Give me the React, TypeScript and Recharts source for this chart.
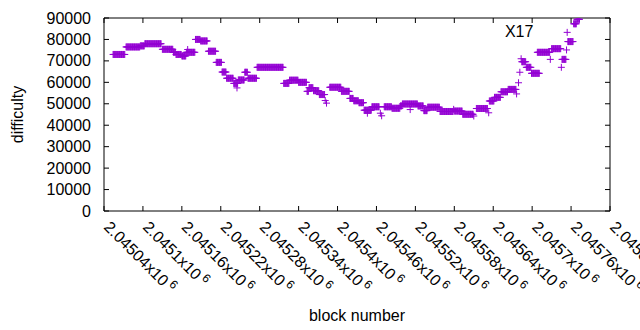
import React from 'react';
import { ScatterChart, Scatter, XAxis, YAxis, ReferenceArea, ReferenceDot } from 'recharts';

// runs of blocks that share a difficulty (a single block has from === to)
const blockFrom = [
  2045054, 2045074, 2045096, 2045103, 2045130, 2045147, 2045151, 2045160, 2045167, 2045169,
  2045181, 2045189, 2045201, 2045213, 2045222, 2045229, 2045240, 2045245, 2045247, 2045257,
  2045262, 2045276, 2045317, 2045326, 2045340, 2045353, 2045356, 2045363, 2045372, 2045381,
  2045383, 2045388, 2045406, 2045419, 2045425, 2045433, 2045441, 2045446, 2045453, 2045466,
  2045468, 2045472, 2045484, 2045497, 2045500, 2045512, 2045524, 2045533, 2045539, 2045558,
  2045579, 2045580, 2045593, 2045610, 2045614, 2045633, 2045634, 2045642, 2045652, 2045663,
  2045676, 2045679, 2045681, 2045683, 2045684, 2045691, 2045699, 2045708, 2045728, 2045730,
  2045745, 2045746, 2045753, 2045754, 2045755, 2045764, 2045769,
];
const blockTo = [
  2045072, 2045095, 2045102, 2045128, 2045146, 2045150, 2045159, 2045166, 2045180, 2045169,
  2045188, 2045199, 2045212, 2045221, 2045228, 2045239, 2045246, 2045245, 2045256, 2045261,
  2045275, 2045316, 2045325, 2045339, 2045352, 2045355, 2045362, 2045371, 2045380, 2045381,
  2045383, 2045405, 2045418, 2045424, 2045432, 2045440, 2045452, 2045446, 2045464, 2045466,
  2045468, 2045483, 2045496, 2045499, 2045523, 2045512, 2045532, 2045538, 2045557, 2045578,
  2045579, 2045592, 2045609, 2045610, 2045631, 2045633, 2045641, 2045651, 2045662, 2045675,
  2045676, 2045679, 2045681, 2045683, 2045690, 2045698, 2045711, 2045727, 2045728, 2045744,
  2045745, 2045752, 2045753, 2045754, 2045763, 2045768, 2045773,
];
const difficulty = [
  73000, 76500, 77000, 78000, 75400, 74000, 73000, 72300, 74000, 75300,
  80000, 79300, 74500, 69300, 64800, 61900, 59500, 57400, 61100, 64700,
  61900, 67000, 59500, 61000, 60000, 55800, 57500, 56100, 54300, 51500,
  50300, 57700, 55800, 52500, 51400, 50500, 47000, 45600, 48600, 45600,
  44400, 48600, 47900, 49000, 49900, 47300, 49000, 46800, 48400, 46400,
  47400, 46600, 45100, 44300, 47800, 45800, 51300, 53000, 55600, 56700,
  54600, 59800, 64700, 71000, 69600, 67000, 64200, 74000, 70700, 75700,
  67000, 70700, 75100, 83300, 79000, 87300, 89400,
];

const xTicks = [
  2045040, 2045100, 2045160, 2045220, 2045280, 2045340, 2045400,
  2045460, 2045520, 2045580, 2045640, 2045700, 2045760, 2045820,
];
const yTicks = [0, 10000, 20000, 30000, 40000, 50000, 60000, 70000, 80000, 90000];

const points = blockFrom.flatMap((from, i) =>
  Array.from({ length: blockTo[i] - from + 1 }, (_, k) => ({ block: from + k, difficulty: difficulty[i] }))
);

const PURPLE = '#9400d3';
const PLOT_TOP = 18;
const PLOT_RIGHT = 610;
const TICK = 5;

const Plus = ({ cx, cy }: any) => (
  <path d={`M${cx - 3.5},${cy}h7M${cx},${cy - 3.5}v7`} stroke={PURPLE} strokeWidth={1} fill="none" />
);

const XTick = ({ x, y, payload }: any) => {
  const label = String(+(payload.value / 1e6).toFixed(5));
  const ax = x - 1;
  const ay = y + 17;
  return (
    <g>
      <line x1={x} y1={y} x2={x} y2={y - TICK} stroke="#000" />
      <line x1={x} y1={PLOT_TOP} x2={x} y2={PLOT_TOP + TICK} stroke="#000" />
      <text x={ax} y={ay} transform={`rotate(45 ${ax} ${ay})`} fontSize={16} fill="#000">
        {label}x10<tspan dx={3} dy={-6} fontSize={12}>6</tspan>
      </text>
    </g>
  );
};

const YTick = ({ x, y, payload }: any) => (
  <g>
    <line x1={x} y1={y} x2={x + TICK} y2={y} stroke="#000" />
    <line x1={PLOT_RIGHT} y1={y} x2={PLOT_RIGHT - TICK} y2={y} stroke="#000" />
    <text x={x - 13} y={y} textAnchor="end" dominantBaseline="central" fontSize={16} fill="#000">
      {payload.value}
    </text>
  </g>
);

export default function App() {
  return (
    <div style={{ position: 'absolute', left: 0, top: 0 }}>
      <ScatterChart
        width={640}
        height={330}
        margin={{ top: PLOT_TOP, right: 640 - PLOT_RIGHT, bottom: 0, left: 0 }}
        style={{ fontFamily: 'Liberation Sans, Arial, sans-serif', background: '#fff' }}
      >
        <XAxis
          type="number"
          dataKey="block"
          domain={[2045040, 2045820]}
          ticks={xTicks}
          interval={0}
          allowDataOverflow
          height={119}
          axisLine={false}
          tickLine={false}
          tickSize={0}
          tickMargin={0}
          tick={(p: any) => <XTick {...p} />}
          label={{ value: 'block number', position: 'insideBottom', offset: 9, fill: '#000', fontSize: 16 }}
        />
        <YAxis
          type="number"
          dataKey="difficulty"
          domain={[0, 90000]}
          ticks={yTicks}
          interval={0}
          allowDataOverflow
          width={104}
          axisLine={false}
          tickLine={false}
          tickSize={0}
          tickMargin={0}
          tick={(p: any) => <YTick {...p} />}
          label={{
            value: 'difficulty',
            angle: -90,
            position: 'insideLeft',
            offset: 17,
            fill: '#000',
            fontSize: 16,
            style: { textAnchor: 'middle' },
          }}
        />
        <ReferenceArea x1={2045040} x2={2045820} y1={0} y2={90000} fill="none" fillOpacity={0} stroke="#000" strokeWidth={1} />
        <Scatter data={points} shape={(p: any) => <Plus {...p} />} isAnimationActive={false} />
        <ReferenceDot
          x={2045680}
          y={83800}
          r={0}
          fill="none"
          stroke="none"
          label={{ value: 'X17', position: 'center', fill: '#000', fontSize: 16 }}
        />
      </ScatterChart>
    </div>
  );
}
